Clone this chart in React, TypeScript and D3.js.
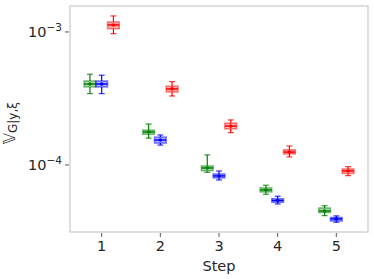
import * as d3 from 'd3'

const STEPS = [1, 2, 3, 4, 5]

// per step: [whisker low, q1, median, q3, whisker high]
const GREEN_BOXES = [
  [3.44e-4, 3.86e-4, 4.06e-4, 4.28e-4, 4.81e-4],
  [1.59e-4, 1.70e-4, 1.77e-4, 1.83e-4, 2.03e-4],
  [8.81e-5, 9.06e-5, 9.49e-5, 9.83e-5, 1.19e-4],
  [6.02e-5, 6.27e-5, 6.49e-5, 6.72e-5, 7.04e-5],
  [4.16e-5, 4.39e-5, 4.51e-5, 4.75e-5, 4.94e-5],
]
const BLUE_BOXES = [
  [3.44e-4, 3.86e-4, 4.06e-4, 4.28e-4, 4.73e-4],
  [1.41e-4, 1.46e-4, 1.54e-4, 1.62e-4, 1.68e-4],
  [7.71e-5, 7.99e-5, 8.27e-5, 8.56e-5, 9.01e-5],
  [5.09e-5, 5.24e-5, 5.41e-5, 5.58e-5, 5.82e-5],
  [3.71e-5, 3.79e-5, 3.93e-5, 4.03e-5, 4.14e-5],
]
const RED_BOXES = [
  [9.71e-4, 1.059e-3, 1.129e-3, 1.189e-3, 1.319e-3],
  [3.30e-4, 3.54e-4, 3.73e-4, 3.91e-4, 4.23e-4],
  [1.75e-4, 1.87e-4, 1.96e-4, 2.06e-4, 2.18e-4],
  [1.15e-4, 1.21e-4, 1.25e-4, 1.30e-4, 1.39e-4],
  [8.31e-5, 8.63e-5, 9.01e-5, 9.33e-5, 9.71e-5],
]

const SERIES = [
  { color: '#008000', offset: -0.2, boxes: GREEN_BOXES },
  { color: '#0000ff', offset: 0, boxes: BLUE_BOXES },
  { color: '#ff0000', offset: 0.2, boxes: RED_BOXES },
]

const Y_TICKS = [1e-4, 1e-3]
const Y_TICK_EXP = ['4', '3']

const W = 374
const H = 279
const margin = { top: 6, right: 6, bottom: 47, left: 70 }

export default function App() {
  const iW = W - margin.left - margin.right
  const iH = H - margin.top - margin.bottom
  const x = d3.scaleLinear().domain([0.46, 5.54]).range([0, iW])
  const y = d3.scaleLog().domain([Math.pow(10, -4.504), Math.pow(10, -2.805)]).range([iH, 0])
  const boxW = x(0.2) - x(0)
  const capW = x(0.1) - x(0)
  const font = 'DejaVu Sans, sans-serif'

  return (
    <svg width={W} height={H} style={{ position: 'absolute', left: 0, top: 0, background: '#fff' }}>
      <g transform={`translate(${margin.left},${margin.top})`}>
        {SERIES.map((s) =>
          s.boxes.map((b, i) => {
            const cx = x(STEPS[i] + s.offset)
            const [lo, q1, med, q3, hi] = b
            return (
              <g key={s.color + i}>
                <line x1={cx} x2={cx} y1={y(q3)} y2={y(hi)} stroke={s.color} strokeWidth={1.2} />
                <line x1={cx} x2={cx} y1={y(q1)} y2={y(lo)} stroke={s.color} strokeWidth={1.2} />
                <line x1={cx - capW / 2} x2={cx + capW / 2} y1={y(hi)} y2={y(hi)} stroke={s.color} strokeWidth={1.2} strokeOpacity={0.8} />
                <line x1={cx - capW / 2} x2={cx + capW / 2} y1={y(lo)} y2={y(lo)} stroke={s.color} strokeWidth={1.2} strokeOpacity={0.8} />
                <rect x={cx - boxW / 2} y={y(q3)} width={boxW} height={y(q1) - y(q3)}
                  fill={s.color} fillOpacity={0.3} stroke={s.color} strokeOpacity={0.5} strokeWidth={1.5} />
                <line x1={cx - boxW / 2} x2={cx + boxW / 2} y1={y(med)} y2={y(med)} stroke={s.color} strokeWidth={1.5} />
                <circle cx={cx} cy={y(med)} r={1.8} fill={s.color} />
              </g>
            )
          })
        )}
        {/* spines */}
        <rect x={0} y={0} width={iW} height={iH} fill="none" stroke="#cccccc" strokeWidth={1.25} />
        {STEPS.map((t) => (
          <g key={t} transform={`translate(${x(t)},${iH})`}>
            <line y1={1} y2={5} stroke="#555" strokeWidth={1} />
            <text y={19} textAnchor="middle" fontFamily={font} fontSize={14.5} fill="#262626">{t}</text>
          </g>
        ))}
        {Y_TICKS.map((t, i) => (
          <g key={t} transform={`translate(0,${y(t)})`}>
            <line x1={-1} x2={-5} stroke="#555" strokeWidth={1} />
            <text x={-8} y={5} textAnchor="end" fontFamily={font} fontSize={14.5} fill="#262626">
              10<tspan dy={-6} fontSize={10.5}>−{Y_TICK_EXP[i]}</tspan>
            </text>
          </g>
        ))}
        <text x={iW / 2} y={iH + 39} textAnchor="middle" fontFamily={font} fontSize={14.5} fill="#262626">Step</text>
        <text transform={`translate(-55,${iH / 2 + 4}) rotate(-90)`} textAnchor="middle" fontFamily={font} fontSize={15} fill="#262626">
          𝕍<tspan dy={2} fontSize={12}>G|y,ξ</tspan>
        </text>
      </g>
    </svg>
  )
}
